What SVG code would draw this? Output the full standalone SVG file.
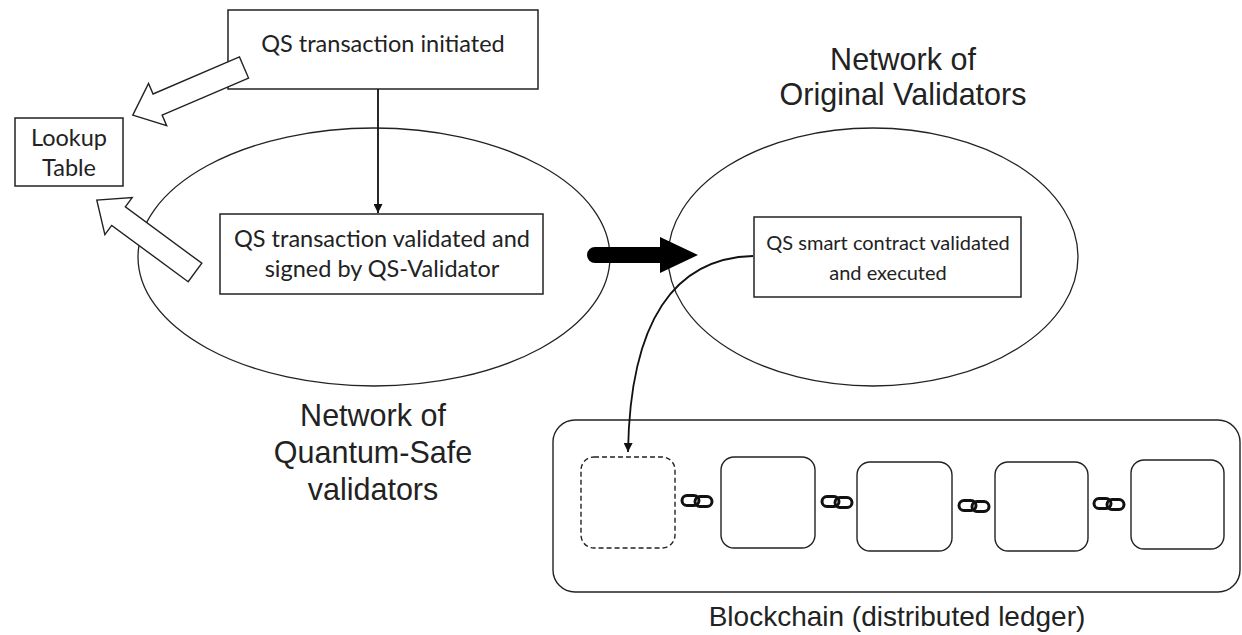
<svg xmlns="http://www.w3.org/2000/svg" width="1242" height="635" viewBox="0 0 1242 635">
<style>
.bg{fill:#fff}
.ell{fill:none;stroke:#222;stroke-width:1.3}
.box{fill:#fff;stroke:#222;stroke-width:1.5}
.blk{fill:#fff;stroke:#222;stroke-width:1.4}
.dash{fill:#fff;stroke:#222;stroke-width:1.4;stroke-dasharray:5 3}
.t{font-family:Lato,"Open Sans",sans-serif;font-size:23.5px;fill:#222;text-anchor:middle}
.ts{font-size:20px}
.lbl{font-family:"Liberation Sans",Arial,sans-serif;font-size:30.5px;fill:#222;text-anchor:middle}
.line{fill:none;stroke:#111;stroke-width:1.8}
.hollow{fill:#fff;stroke:#222;stroke-width:1.4;stroke-linejoin:miter}
.solid{fill:#000;stroke:none}
.lnk{fill:none;stroke:#111;stroke-width:3}
</style>
<defs>
<marker id="ah" viewBox="0 0 10 10" refX="10" refY="5" markerWidth="5" markerHeight="5" orient="auto" markerUnits="strokeWidth">
<path d="M0,0 L10,5 L0,10 z" fill="#111"/>
</marker>
<g id="link">
<rect class="lnk" x="-15" y="-5.5" width="17" height="10" rx="5"/>
<rect class="lnk" x="-2" y="-4.5" width="17" height="10" rx="5"/>
</g>
</defs>
<rect class="bg" x="0" y="0" width="1242" height="635"/>

<g id="qs-network">
<ellipse class="ell" cx="374" cy="257" rx="236" ry="129"/>
<text class="lbl" x="373" y="426">Network of</text>
<text class="lbl" x="373" y="463">Quantum-Safe</text>
<text class="lbl" x="373" y="500">validators</text>
</g>

<g id="orig-network">
<ellipse class="ell" cx="873" cy="257" rx="205" ry="129"/>
<text class="lbl" x="903" y="70">Network of</text>
<text class="lbl" x="903" y="105">Original Validators</text>
</g>

<g id="tx-initiated">
<rect class="box" x="228" y="10" width="310" height="79"/>
<text class="t" x="383" y="52">QS transaction initiated</text>
</g>

<g id="lookup-table">
<rect class="box" x="15" y="118" width="108" height="68"/>
<text class="t" x="69" y="146">Lookup</text>
<text class="t" x="69" y="176">Table</text>
</g>

<g id="tx-validated">
<rect class="box" x="220" y="214" width="323" height="80"/>
<text class="t" x="382" y="247">QS transaction validated and</text>
<text class="t" x="382" y="277">signed by QS-Validator</text>
</g>

<g id="smart-contract">
<rect class="box" x="754" y="217" width="267" height="80"/>
<text class="t ts" x="888" y="250">QS smart contract validated</text>
<text class="t ts" x="888" y="280">and executed</text>
</g>

<g id="blockchain">
<rect class="blk" x="553" y="420" width="687" height="172" rx="22"/>
<rect class="dash" x="581" y="457" width="94" height="91" rx="13"/>
<rect class="blk" x="721" y="457" width="94" height="91" rx="13"/>
<rect class="blk" x="857" y="462" width="95" height="89" rx="13"/>
<rect class="blk" x="995" y="462" width="93" height="89" rx="13"/>
<rect class="blk" x="1131" y="460" width="93" height="89" rx="13"/>
<use href="#link" x="697" y="501"/>
<use href="#link" x="837" y="502"/>
<use href="#link" x="974" y="506"/>
<use href="#link" x="1109" y="504"/>
<text class="lbl" style="font-size:28px" x="897" y="626">Blockchain (distributed ledger)</text>
</g>

<g id="connectors">
<line class="line" x1="378" y1="89" x2="378" y2="213" marker-end="url(#ah)"/>
<polygon class="hollow" transform="translate(244,67.5) rotate(156.8)" points="0,-11.5 94,-11.5 94,-23 121,0 94,23 94,11.5 0,11.5"/>
<polygon class="hollow" transform="translate(195,272.5) rotate(-143.6)" points="0,-11.5 95,-11.5 95,-23 122,0 95,23 95,11.5 0,11.5"/>
<path class="solid" d="M595,247 L660,247 L660,237 L698,255 L660,273 L660,263 L595,263 A8,8 0 0 1 595,247 z"/>
<path class="line" d="M753,256 C675,258 630,320 628,452" marker-end="url(#ah)"/>
</g>
</svg>
